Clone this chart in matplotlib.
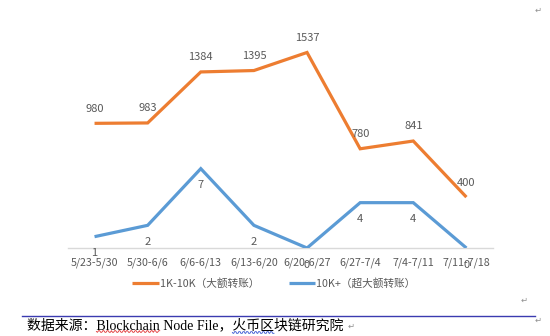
import numpy as np
import matplotlib.pyplot as plt

plt.rcParams['font.family'] = ['Noto Sans CJK SC', 'DejaVu Sans']

weeks = ['5/23-5/30', '5/30-6/6', '6/6-6/13', '6/13-6/20', '6/20-6/27',
         '6/27-7/4', '7/4-7/11', '7/11-7/18']
large = [980, 983, 1384, 1395, 1537, 780, 841, 400]    # 1K-10K
huge = [1, 2, 7, 2, 0, 4, 4, 0]                         # 10K+

orange = '#ED7D31'
blue = '#5B9BD5'
grey = '#595959'

fig = plt.figure(figsize=(5.5, 3.36), dpi=100)
ax = fig.add_axes([0.1236, 0.2619, 0.7727, 0.6815])
ax2 = ax.twinx()

x = np.arange(len(weeks))
ax.plot(x, large, color=orange, lw=2.3, solid_capstyle='butt', solid_joinstyle='miter',
        label='1K-10K（大额转账）')
ax2.plot(x, huge, color=blue, lw=2.3, solid_capstyle='butt', solid_joinstyle='miter',
         label='10K+（超大额转账）')

ax.set_xlim(-0.5, len(weeks) - 0.5)
ax.set_ylim(0, 1800)
ax2.set_ylim(0, 20.2)

for xi, v in zip(x, large):
    ax.annotate(str(v), (xi, v), xytext=(0, 10.5), textcoords='offset points',
                ha='center', va='center', fontsize=8, color=grey)
for xi, v in zip(x, huge):
    ax2.annotate(str(v), (xi, v), xytext=(0, -12), textcoords='offset points',
                 ha='center', va='center', fontsize=8, color=grey)

for a in (ax, ax2):
    for s in a.spines.values():
        s.set_visible(False)
    a.set_yticks([])
ax.spines['bottom'].set_visible(True)
ax.spines['bottom'].set_color('#D9D9D9')
ax.spines['bottom'].set_linewidth(1)
ax.set_xticks(x)
ax.set_xticklabels(weeks, fontsize=7.7, color=grey)
ax.tick_params(axis='x', length=0, pad=7)

h1, l1 = ax.get_legend_handles_labels()
h2, l2 = ax2.get_legend_handles_labels()
fig.legend(h1 + h2, l1 + l2, loc='center', bbox_to_anchor=(274 / 550, 1 - 283 / 336),
           ncol=2, frameon=False, fontsize=7.7, handlelength=2.5, handletextpad=0.1,
           columnspacing=2.7, labelcolor=grey)

# source note below the chart
W, H = 550, 336
src = '数据来源：Blockchain Node File，火币区块链研究院'
src_font = dict(family=['Liberation Serif', 'Noto Sans CJK SC'], fontsize=10)
x0 = 27
fig.add_artist(plt.Line2D([22 / W, 535 / W], [1 - 316 / H] * 2, color='#3B3BB0', lw=1))
fig.text(x0 / W, 1 - 325 / H, src, color='black', va='center', ha='left', **src_font)

# pixel width of a piece of the source note
renderer = fig.canvas.get_renderer()
def text_width(s):
    t = fig.text(0, 0, s, **src_font)
    w = t.get_window_extent(renderer).width
    t.remove()
    return w

def squiggle(word, color, y):
    start = x0 + text_width(src[:src.index(word)])
    width = text_width(word)
    sq = np.linspace(0, 1, 60)
    n = width / 2.0
    yy = y + 0.8 * np.sign(np.sin(np.pi * n * sq))
    fig.add_artist(plt.Line2D((start + width * sq) / W, 1 - yy / H, color=color, lw=0.6))

# spell-check squiggles
squiggle('Blockchain', '#E03030', 331.5)
squiggle('火币区', '#3050D0', 332.5)

# paragraph marks
for px, py in [(538, 10), (524, 300), (538, 320), (351, 326)]:
    fig.text(px / W, 1 - py / H, '↵', fontsize=6, color='#909090',
             family='DejaVu Sans', ha='center', va='center')

fig.savefig('out.png', dpi=100)
